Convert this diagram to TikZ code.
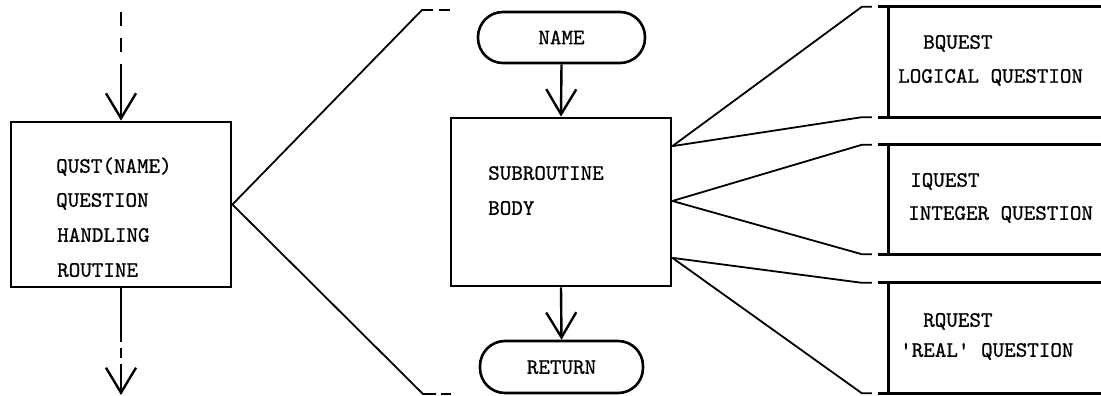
\documentclass[tikz,border=0pt]{standalone}
\usepackage{fontspec}
\newfontfamily\typewriter{lmmono10-regular.otf}[FakeBold=0.8]
\usetikzlibrary{arrows.meta,calc}
\begin{document}
\begin{tikzpicture}[x=1pt,y=-1pt,
  txt/.style={font=\typewriter\fontsize{22}{24}\selectfont, inner sep=0pt,
    text height=13.5pt, text depth=0pt},
  lbl/.style={txt, anchor=west},
  procbox/.style={draw, line width=2.8pt, inner sep=0pt},
  terminal/.style={draw, line width=2.6pt, rounded corners=25pt, txt},
  frame/.style={line width=2.8pt},
  conn/.style={line width=1.8pt},
  flowline/.style={line width=2.4pt},
  flow/.style={flowline, -{Straight Barb[length=25pt,width=30pt,line width=2.4pt]}},
]
\useasboundingbox (0,0) rectangle (1101,396);

% calling routine
\node[procbox, minimum width=220pt, minimum height=165pt] (qust) at (121,204.5) {};
\node[lbl] (q1) at (56,166) {QUST(NAME)};
\node[lbl] (q2) at (56,200) {QUESTION};
\node[lbl] (q3) at (57,235) {HANDLING};
\node[lbl] (q4) at (57,270) {ROUTINE};

% flow into and out of the calling routine
\coordinate (tin) at (121,12);
\coordinate (tmid) at (121,64);
\draw[flowline, dash pattern=on 14pt off 12pt] (tin) -- (tmid);
\draw[flow] (tmid) -- (qust.north);
\coordinate (b1) at (121,342);
\coordinate (b2) at (121,348);
\coordinate (b3) at (121,358);
\coordinate (b4) at (121,364);
\coordinate (bout) at (121,395);
\draw[flowline] (qust.south) -- (b1);
\draw[flowline] (b2) -- (b3);
\draw[flow] (b4) -- (bout);

% subroutine expansion
\node[terminal, minimum width=167pt, minimum height=51pt] (name) at (561.5,37.5) {NAME};
\node[procbox, minimum width=220pt, minimum height=168pt] (sub) at (561,202) {};
\node[lbl] (s1) at (488,173) {SUBROUTINE};
\node[lbl] (s2) at (488,208) {BODY};
\node[terminal, minimum width=163pt, minimum height=52pt] (ret) at (561.5,367) {RETURN};
\draw[flow] (name.south) -- (sub.north);
\draw[flow] (sub.south) -- (ret.north);

% expansion bracket lines
\coordinate (zt) at (422,10);
\coordinate (zt1) at (433,10);
\coordinate (zt2) at (439,10);
\coordinate (zt3) at (450,10);
\coordinate (zb) at (423,394);
\coordinate (zb1) at (436,394);
\coordinate (zb2) at (441,394);
\coordinate (zb3) at (451,394);
\draw[conn] (qust.east) -- (zt) -- (zt1);
\draw[conn] (zt2) -- (zt3);
\draw[conn] (qust.east) -- (zb) -- (zb1);
\draw[conn] (zb2) -- (zb3);

% question routines
\node[minimum width=212pt, minimum height=110pt, inner sep=0pt] (bq) at (995,62) {};
\node[minimum width=212pt, minimum height=109pt, inner sep=0pt] (iq) at (995,199.5) {};
\node[minimum width=212pt, minimum height=110pt, inner sep=0pt] (rq) at (995,338) {};
\foreach \b in {bq,iq,rq} {
  \draw[frame] (\b.north east) -- ([xshift=-11pt]\b.north west);
  \draw[frame] (\b.north west) -- (\b.south west);
  \draw[frame] ([xshift=-11pt]\b.south west) -- (\b.south east);
}
\node[lbl] (bq1) at (923,42) {BQUEST};
\node[lbl] (bq2) at (898,76) {LOGICAL QUESTION};
\node[lbl] (iq1) at (910,180) {IQUEST};
\node[lbl] (iq2) at (908,213) {INTEGER QUESTION};
\node[lbl] (rq1) at (923,320) {RQUEST};
\node[lbl] (rq2) at (900,350) {\textquotesingle REAL\textquotesingle{} QUESTION};

% links from the subroutine body to each question routine
\coordinate (pa) at ($(sub.north east)!0.173!(sub.south east)$);
\coordinate (pb) at ($(sub.north east)!0.494!(sub.south east)$);
\coordinate (pc) at ($(sub.north east)!0.827!(sub.south east)$);
\foreach \p/\b in {pa/bq,pb/iq,pc/rq} {
  \draw[conn] (\p) -- ([xshift=-27pt]\b.north west) -- ([xshift=-17pt]\b.north west);
  \draw[conn] (\p) -- ([xshift=-27pt]\b.south west) -- ([xshift=-17pt]\b.south west);
}
\end{tikzpicture}
\end{document}
